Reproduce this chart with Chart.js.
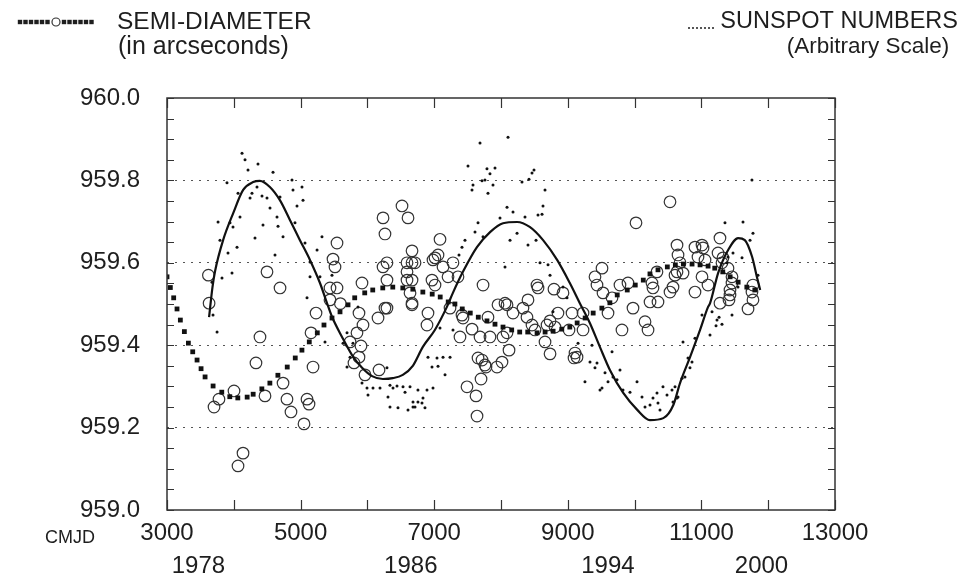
<!DOCTYPE html>
<html>
<head>
<meta charset="utf-8">
<script src="https://cdn.jsdelivr.net/npm/chart.js@4.4.1/dist/chart.umd.min.js"></script>
<style>
  html, body { margin: 0; padding: 0; background: #fff; }
  #wrap { width: 965px; height: 582px; position: relative; }
</style>
</head>
<body>
<div id="wrap"><canvas id="solarChart"></canvas></div>
<script>
// Semi-diameter measurements (open circles), CMJD vs arcseconds
const obsMjd = [3620, 3630, 3778, 3704, 4003, 4392, 4332, 4467, 4737, 4796, 4856, 5051, 5096, 5126, 4138, 4063,
  5186, 5231, 5156, 4497, 4692, 5545, 5485, 5515, 5440, 5545, 5440, 5595, 5919, 6234, 6608, 6518, 6263, 6668,
  6234, 6293, 6593, 6713, 6293, 6593, 6263, 6668, 6593, 5874, 5934, 5844, 5740, 5904, 5799, 5874, 6159, 6293,
  6174, 5964, 7087, 6668, 7012, 7057, 6982, 7132, 7281, 7207, 7356, 6967, 7012, 7731, 6668, 6638, 8539, 8554,
  8793, 8928, 8404, 7955, 8090, 8060, 9512, 9407, 9437, 9781, 9527, 9662, 9901, 10021, 10530, 9976, 10231,
  10350, 10260, 10275, 10335, 10530, 10575, 10635, 10650, 10605, 10680, 6668, 6892, 6907, 7237, 7386, 7566,
  7686, 7835, 7805, 7431, 7416, 7656, 7716, 7760, 7775, 8015, 7940, 8120, 8030, 8090, 7701, 7491, 7626, 7641,
  8180, 8329, 8389, 8464, 8509, 8659, 8734, 8689, 8808, 8734, 8853, 9018, 9063, 9108, 9138, 9093, 9228, 9228,
  9602, 9811, 10156, 10201, 10635, 10904, 11009, 11024, 10949, 11054, 10725, 11009, 10904, 11099, 11278, 11249,
  11323, 11308, 11398, 11458, 11428, 11458, 11772, 11757, 11428, 11278, 11413, 11698, 11772];
const obsArcsec = [959.570, 959.502, 959.269, 959.250, 959.289, 959.420, 959.357, 959.277, 959.308, 959.269, 959.238, 959.209, 959.269, 959.257, 959.138, 959.107,
  959.347, 959.478, 959.430, 959.578, 959.539, 959.648, 959.609, 959.590, 959.539, 959.539, 959.510, 959.501, 959.551, 959.709, 959.709, 959.738, 959.670, 959.629,
  959.590, 959.600, 959.600, 959.600, 959.558, 959.558, 959.490, 959.502, 959.578, 959.478, 959.449, 959.430, 959.408, 959.398, 959.357, 959.371, 959.466, 959.490,
  959.340, 959.328, 959.657, 959.600, 959.612, 959.619, 959.607, 959.590, 959.600, 959.566, 959.566, 959.558, 959.546, 959.546, 959.558, 959.527, 959.546, 959.539,
  959.536, 959.527, 959.510, 959.498, 959.498, 959.502, 959.587, 959.566, 959.546, 959.546, 959.527, 959.515, 959.551, 959.697, 959.748, 959.490, 959.505,
  959.505, 959.551, 959.539, 959.578, 959.529, 959.541, 959.643, 959.619, 959.570, 959.600, 959.498, 959.449, 959.478, 959.490, 959.420, 959.439,
  959.420, 959.420, 959.468, 959.466, 959.473, 959.369, 959.364, 959.352, 959.347, 959.359, 959.347, 959.388, 959.420, 959.430, 959.318, 959.299, 959.277, 959.228,
  959.478, 959.490, 959.468, 959.449, 959.437, 959.408, 959.379, 959.449, 959.444, 959.459, 959.478, 959.437, 959.478, 959.381, 959.371, 959.369, 959.437, 959.478,
  959.478, 959.437, 959.457, 959.437, 959.578, 959.638, 959.643, 959.636, 959.614, 959.607, 959.575, 959.566, 959.529, 959.546, 959.660, 959.624,
  959.612, 959.600, 959.587, 959.566, 959.534, 959.551, 959.546, 959.529, 959.522, 959.502, 959.510, 959.488, 959.510];

// Smoothed semi-diameter (dashed line of squares)
const smoothMjd = [3000, 3050, 3100, 3150, 3200, 3260, 3320, 3385, 3450, 3510, 3570, 3690, 3820, 3940, 4060, 4200,
  4290, 4420, 4540, 4660, 4800, 4920, 5020, 5130, 5250, 5350, 5470, 5590, 5710, 5810, 5960, 6080, 6230, 6380,
  6530, 6680, 6830, 6970, 7090, 7210, 7310, 7420, 7540, 7660, 7790, 7910, 8030, 8160, 8280, 8400, 8540, 8660,
  8780, 8910, 9030, 9140, 9260, 9380, 9510, 9630, 9740, 9890, 10010, 10130, 10230, 10350, 10490, 10610, 10730,
  10860, 10980, 11100, 11200, 11320, 11430, 11550, 11680, 11800];
const smoothArcsec = [959.566, 959.540, 959.515, 959.488, 959.461, 959.433, 959.405, 959.384, 959.364, 959.343, 959.323, 959.301, 959.286, 959.275, 959.272, 959.274,
  959.281, 959.294, 959.308, 959.327, 959.347, 959.369, 959.388, 959.408, 959.430, 959.449, 959.466, 959.481, 959.498, 959.515, 959.527, 959.534, 959.539, 959.541,
  959.539, 959.536, 959.529, 959.524, 959.517, 959.505, 959.500, 959.488, 959.478, 959.468, 959.459, 959.451, 959.444, 959.437, 959.432, 959.432, 959.430, 959.432,
  959.434, 959.439, 959.444, 959.454, 959.466, 959.478, 959.490, 959.503, 959.522, 959.534, 959.546, 959.558, 959.573, 959.583, 959.590, 959.595, 959.597,
  959.597, 959.595, 959.592, 959.587, 959.578, 959.566, 959.553, 959.541, 959.534];

// Smoothed sunspot cycle (solid curve), arbitrary scale
const cycleMjd = [3630, 3680, 3720, 3840, 3990, 4140, 4290, 4390, 4540, 4690, 4840, 4990, 5140, 5290, 5400, 5470,
  5620, 5770, 5920, 6070, 6230, 6380, 6530, 6680, 6830, 7010, 7190, 7280, 7430, 7640, 7840, 8030, 8240, 8430,
  8630, 8840, 9030, 9180, 9330, 9480, 9630, 9830, 10040, 10230, 10430, 10580, 10680, 10830, 10980, 11100, 11130,
  11250, 11400, 11550, 11650, 11760, 11830, 11880];
const cycleVal = [959.468, 959.540, 959.580, 959.655, 959.720, 959.777, 959.796, 959.799, 959.784, 959.752, 959.704, 959.655, 959.607, 959.551, 959.500, 959.469,
  959.420, 959.376, 959.345, 959.325, 959.318, 959.320, 959.328, 959.350, 959.396, 959.437, 959.493, 959.527, 959.578, 959.638, 959.675, 959.696, 959.699, 959.687,
  959.655, 959.607, 959.551, 959.502, 959.454, 959.396, 959.340, 959.284, 959.243, 959.218, 959.223, 959.255, 959.308, 959.371, 959.437, 959.493, 959.502,
  959.575, 959.631, 959.660, 959.655, 959.614, 959.566, 959.534];

// Sunspot numbers (small dots), arbitrary scale
const spotMjd = [4123, 4168, 4213, 4362, 4587, 3898, 4063, 4272, 4347, 4422, 4497, 4243, 3764, 3943, 3988, 4093, 3793,
  4437, 4662, 4737, 4317, 4542, 4647, 4692, 4871, 4886, 5021, 4946, 5036, 4916, 5066, 5141, 5246, 5320, 4617, 3973,
  3823, 3674, 5141, 5290, 5470, 5096, 5859, 3913, 4048, 3689, 3749, 5695, 5635, 5365, 5784, 5695, 5919, 5994, 6009,
  6084, 6189, 6293, 6338, 6383, 6443, 6533, 6563, 6638, 6308, 6458, 6338, 6608, 6683, 6757, 6757, 5740, 6892, 6982,
  6683, 6832, 6817, 6862, 6713, 6907, 7042, 7132, 7237, 6967, 7057, 7162, 7087, 7281, 8778, 9153, 9362, 9332, 9437,
  9407, 9257, 9512, 9482, 9602, 9557, 9677, 9737, 9781, 9662, 9826, 9931, 10036, 10111, 10156, 10231, 10275, 10335,
  10350, 10380, 10425, 10485, 10560, 10605, 10575, 10635, 10650, 10710, 10754, 10799, 10859, 10904, 10829, 10725,
  11009, 11129, 11159, 11234, 11264, 11308, 11219, 11458, 11353, 11623, 11772, 11728, 11473, 11398, 11608, 11847,
  11757, 11383, 11548, 7686, 8105, 7506, 7790, 7910, 7835, 7760, 7716, 7581, 7566, 7805, 7880, 8314, 8419, 8464,
  8494, 8659, 8629, 8554, 8614, 8090, 8180, 7985, 8359, 7656, 7611, 7731, 7461, 7416, 7371, 8240, 8135, 8404, 8524,
  8060, 8584, 8704, 8734, 8928, 8988];
const spotVal = [959.866, 959.850, 959.825, 959.840, 959.820, 959.794, 959.769, 959.769, 959.784, 959.762, 959.757, 959.757, 959.699, 959.697, 959.687, 959.711, 959.655,
  959.692, 959.689, 959.663, 959.660, 959.733, 959.711, 959.760, 959.801, 959.777, 959.784, 959.738, 959.752, 959.697, 959.648, 959.602, 959.631, 959.663, 959.619, 959.575,
  959.563, 959.553, 959.566, 959.566, 959.570, 959.515, 959.493, 959.624, 959.638, 959.473, 959.432, 959.430, 959.405, 959.408, 959.405, 959.347, 959.308, 959.296, 959.279,
  959.296, 959.296, 959.345, 959.303, 959.296, 959.301, 959.299, 959.286, 959.299, 959.274, 959.248, 959.250, 959.243, 959.250, 959.291, 959.262, 959.371, 959.291, 959.296,
  959.262, 959.272, 959.260, 959.248, 959.250, 959.371, 959.369, 959.371, 959.371, 959.347, 959.349, 959.328, 959.442, 959.437, 959.481, 959.405, 959.400, 959.359, 959.357,
  959.345, 959.311, 959.296, 959.291, 959.311, 959.333, 959.323, 959.316, 959.340, 959.384, 959.291, 959.286, 959.311, 959.274, 959.250, 959.255, 959.272, 959.284,
  959.260, 959.243, 959.299, 959.279, 959.291, 959.299, 959.262, 959.272, 959.274, 959.320, 959.323, 959.369, 959.359, 959.417, 959.345, 959.408,
  959.473, 959.425, 959.481, 959.461, 959.468, 959.451, 959.447, 959.473, 959.697, 959.699, 959.672, 959.655, 959.624, 959.614, 959.612, 959.570,
  959.801, 959.600, 959.541, 959.891, 959.905, 959.835, 959.828, 959.830, 959.816, 959.801, 959.799, 959.789, 959.777, 959.769, 959.789, 959.796, 959.803, 959.818,
  959.825, 959.777, 959.738, 959.716, 959.718, 959.735, 959.723, 959.709, 959.711, 959.697, 959.675, 959.663, 959.655, 959.638, 959.619, 959.672, 959.655, 959.643, 959.655,
  959.590, 959.600, 959.595, 959.570, 959.541, 959.515];

// Axis labels
const yearLabels = ['1978', '1986', '1994', '2000'];
const yearMjd = [3470, 6650, 9600, 11900];

const pairs = (xs, ys) => xs.map((x, i) => ({ x: x, y: ys[i] }));
const FONT = "'Liberation Sans', Arial, Helvetica, sans-serif";
const INK = '#1e1e1e';

Chart.defaults.font.family = FONT;
Chart.defaults.font.size = 24;
Chart.defaults.color = INK;

// box, inward ticks, legend and CMJD label
const decorations = {
    id: 'decorations',
    afterDatasetsDraw(chart) {
        const { ctx, chartArea: a, scales } = chart;
        ctx.save();
        ctx.strokeStyle = '#333';
        ctx.lineWidth = 1.5;
        ctx.strokeRect(a.left, a.top, a.width, a.height);
        ctx.lineWidth = 1.2;
        ctx.beginPath();
        scales.x.ticks.forEach(t => {
            const px = Math.round(scales.x.getPixelForValue(t.value)) + 0.5;
            ctx.moveTo(px, a.bottom); ctx.lineTo(px, a.bottom - 10);
            ctx.moveTo(px, a.top); ctx.lineTo(px, a.top + 10);
        });
        scales.y.ticks.forEach(t => {
            const py = Math.round(scales.y.getPixelForValue(t.value)) + 0.5;
            ctx.moveTo(a.left, py); ctx.lineTo(a.left + 7, py);
            ctx.moveTo(a.right, py); ctx.lineTo(a.right - 7, py);
        });
        ctx.stroke();
        ctx.restore();
    },
    afterDraw(chart) {
        const ctx = chart.ctx;
        ctx.save();
        ctx.fillStyle = INK;
        ctx.textBaseline = 'middle';

        // semi-diameter key: squares with a circle in the middle
        for (let x = 20; x <= 92; x += 5.5) {
            if (x > 50 && x < 62) continue;
            ctx.fillRect(x - 2.2, 19.8, 4.4, 4.4);
        }
        ctx.strokeStyle = '#333';
        ctx.lineWidth = 1.2;
        ctx.beginPath();
        ctx.arc(56, 22, 4, 0, Math.PI * 2);
        ctx.stroke();
        ctx.textAlign = 'left';
        ctx.font = '24.5px ' + FONT;
        ctx.fillText('SEMI-DIAMETER', 117, 22);
        ctx.font = '25px ' + FONT;
        ctx.fillText('(in arcseconds)', 118, 47);

        // sunspot key: row of dots
        for (let x = 689; x <= 713; x += 4) {
            ctx.beginPath();
            ctx.arc(x, 28, 1, 0, Math.PI * 2);
            ctx.fill();
        }
        ctx.textAlign = 'right';
        ctx.font = '23.5px ' + FONT;
        ctx.fillText('SUNSPOT NUMBERS', 958, 22);
        ctx.textAlign = 'center';
        ctx.font = '22.5px ' + FONT;
        ctx.fillText('(Arbitrary Scale)', 868, 47);

        ctx.font = '18px ' + FONT;
        ctx.fillText('CMJD', 70, 538);
        ctx.restore();
    }
};

new Chart(document.getElementById('solarChart'), {
    type: 'scatter',
    data: {
        datasets: [
            {
                label: 'Sunspot numbers',
                data: pairs(spotMjd, spotVal),
                pointRadius: 1.5,
                pointBackgroundColor: '#111',
                pointBorderWidth: 0
            },
            {
                label: 'Sunspot cycle',
                data: pairs(cycleMjd, cycleVal),
                showLine: true,
                borderColor: '#111',
                borderWidth: 2.2,
                pointRadius: 0,
                cubicInterpolationMode: 'monotone'
            },
            {
                label: 'Semi-diameter (smoothed)',
                data: pairs(smoothMjd, smoothArcsec),
                pointStyle: 'rect',
                pointRadius: 3.4,
                pointBackgroundColor: '#111',
                pointBorderWidth: 0
            },
            {
                label: 'Semi-diameter',
                data: pairs(obsMjd, obsArcsec),
                pointStyle: 'circle',
                pointRadius: 5.8,
                pointBackgroundColor: 'rgba(0,0,0,0)',
                pointBorderColor: '#333',
                pointBorderWidth: 1.2
            }
        ]
    },
    options: {
        responsive: true,
        maintainAspectRatio: false,
        animation: false,
        layout: { padding: { top: 98, right: 130, left: 0, bottom: 0 } },
        plugins: { legend: { display: false }, tooltip: { enabled: false } },
        scales: {
            x: {
                type: 'linear',
                min: 3000,
                max: 13000,
                weight: 0,
                afterFit: s => { s.height = 36; },
                border: { display: false },
                grid: { drawOnChartArea: false, drawTicks: false },
                ticks: {
                    stepSize: 1000,
                    autoSkip: false,
                    maxRotation: 0,
                    padding: 9,
                    callback: v => (v % 2000 === 1000 ? String(v) : '')
                }
            },
            years: {
                type: 'linear',
                position: 'bottom',
                min: 3000,
                max: 13000,
                weight: 1,
                afterBuildTicks: s => { s.ticks = yearMjd.map(v => ({ value: v })); },
                afterFit: s => { s.height = 36; },
                border: { display: false },
                grid: { display: false, drawTicks: false },
                ticks: {
                    autoSkip: false,
                    maxRotation: 0,
                    padding: 6,
                    callback: (v, i) => yearLabels[i]
                }
            },
            y: {
                min: 959,
                max: 960,
                afterFit: s => { s.width = 167; },
                border: { display: false, dash: [2, 6] },
                grid: {
                    drawTicks: false,
                    color: c => {
                        const k = Math.round(c.tick.value * 100);
                        return (k % 20 === 0 && k !== 95900 && k !== 96000) ? '#555' : 'rgba(0,0,0,0)';
                    },
                    lineWidth: 1.1
                },
                ticks: {
                    stepSize: 0.05,
                    autoSkip: false,
                    padding: 27,
                    callback: v => (Math.round(v * 100) % 20 === 0 ? v.toFixed(1) : '')
                }
            }
        }
    },
    plugins: [decorations]
});
</script>
</body>
</html>
